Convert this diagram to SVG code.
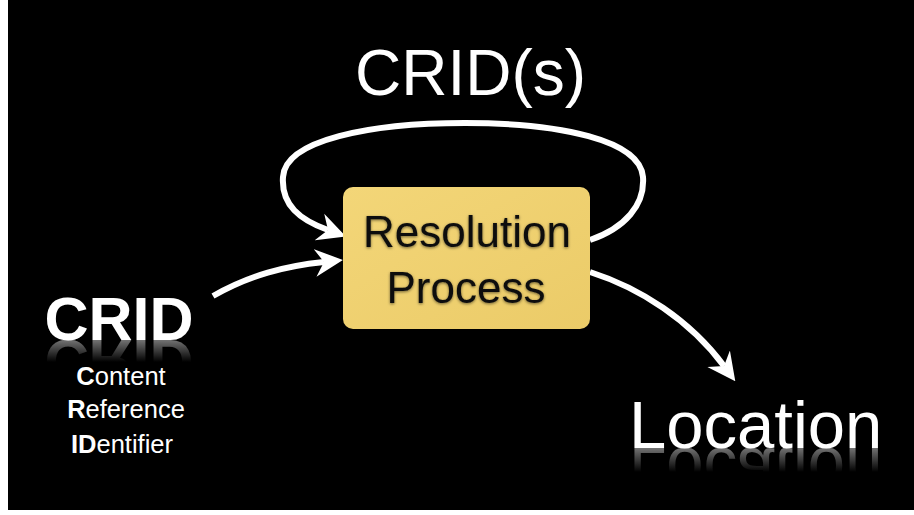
<svg xmlns="http://www.w3.org/2000/svg" xmlns:xlink="http://www.w3.org/1999/xlink" width="914" height="515" viewBox="0 0 914 515">
<style>
.bg{fill:#000}
.conn{fill:none;stroke:#fff;stroke-width:6;stroke-linecap:butt}
.lbl{font-family:"Liberation Sans",Arial,sans-serif;fill:#fff}
.box{fill:url(#boxgrad)}
.boxtxt{font-family:"Liberation Sans",Arial,sans-serif;font-size:44px;fill:#111;text-anchor:middle}
.sub{font-family:"Liberation Sans",Arial,sans-serif;font-size:25.5px;fill:#fff;text-anchor:middle}
</style>
<defs>
<marker id="ah" markerUnits="userSpaceOnUse" viewBox="0 0 28 30" refX="9" refY="15" markerWidth="28" markerHeight="30" orient="auto">
<path d="M0,1 L28,15 L0,29 L9,15 Z" fill="#fff"/>
</marker>
<linearGradient id="boxgrad" x1="0" y1="0" x2="1" y2="1">
<stop offset="0" stop-color="#F3D678"/>
<stop offset="1" stop-color="#EBCB68"/>
</linearGradient>
<filter id="shadow" x="-10%" y="-30%" width="120%" height="160%">
<feGaussianBlur in="SourceAlpha" stdDeviation="1.6" result="b"/>
<feOffset in="b" dx="0" dy="1" result="o"/>
<feFlood flood-color="#000" flood-opacity="0.55"/>
<feComposite in2="o" operator="in" result="s"/>
<feMerge><feMergeNode in="s"/><feMergeNode in="SourceGraphic"/></feMerge>
</filter>
<linearGradient id="fadeA" gradientUnits="userSpaceOnUse" x1="0" y1="340" x2="0" y2="362">
<stop offset="0" stop-color="#fff" stop-opacity="0.45"/>
<stop offset="1" stop-color="#fff" stop-opacity="0"/>
</linearGradient>
<linearGradient id="fadeB" gradientUnits="userSpaceOnUse" x1="0" y1="448" x2="0" y2="472">
<stop offset="0" stop-color="#fff" stop-opacity="0.45"/>
<stop offset="1" stop-color="#fff" stop-opacity="0"/>
</linearGradient>
<mask id="mA" maskUnits="userSpaceOnUse" x="0" y="0" width="914" height="515">
<rect x="0" y="340" width="914" height="24" fill="url(#fadeA)"/>
</mask>
<mask id="mB" maskUnits="userSpaceOnUse" x="0" y="0" width="914" height="515">
<rect x="0" y="448" width="914" height="26" fill="url(#fadeB)"/>
</mask>
</defs>

<rect x="0" y="0" width="914" height="515" fill="#fff"/>
<rect class="bg" x="8" y="0" width="906" height="510"/>

<g id="connectors">
<path class="conn" marker-end="url(#ah)" d="M590,240 C625,228 645,205 643,177 C640,140 560,123 465,123 C370,123 285,140 283,177 C281,205 300,220 328,230"/>
<path class="conn" marker-end="url(#ah)" d="M213,296 C250,275 285,266 324,262"/>
<path class="conn" marker-end="url(#ah)" d="M590,272 C640,288 690,320 724,366"/>
</g>

<g id="loop-label">
<text class="lbl" x="355" y="95" font-size="64">CRID(s)</text>
</g>

<g id="resolution-process">
<rect class="box" x="343" y="187" width="247" height="142" rx="10" ry="10"/>
<g filter="url(#shadow)">
<text class="boxtxt" x="467" y="247">Resolution</text>
<text class="boxtxt" x="466" y="303">Process</text>
</g>
</g>

<g id="crid">
<text id="crid-t" class="lbl" x="119" y="340" font-size="61" font-weight="bold" text-anchor="middle">CRID</text>
<g mask="url(#mA)">
<use xlink:href="#crid-t" href="#crid-t" transform="translate(0,680) scale(1,-1)"/>
</g>
<text class="sub" x="121" y="385"><tspan font-weight="bold">C</tspan>ontent</text>
<text class="sub" x="126" y="418"><tspan font-weight="bold">R</tspan>eference</text>
<text class="sub" x="122" y="453"><tspan font-weight="bold">ID</tspan>entifier</text>
</g>

<g id="location">
<text id="loc-t" class="lbl" x="629" y="448" font-size="67">Location</text>
<g mask="url(#mB)">
<use xlink:href="#loc-t" href="#loc-t" transform="translate(0,896) scale(1,-1)"/>
</g>
</g>
</svg>
